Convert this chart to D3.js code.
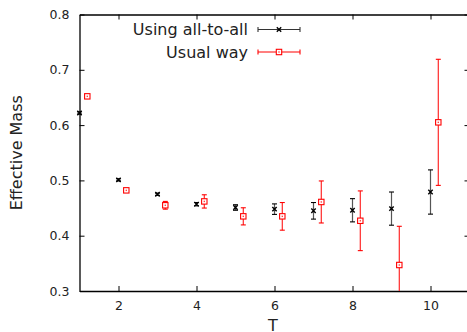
<!DOCTYPE html>
<html>
<head>
<meta charset="utf-8">
<script src="https://cdn.jsdelivr.net/npm/d3@7"></script>
<style>
  body { margin: 0; background: #fff; }
  text { font-family: "DejaVu Sans", sans-serif; fill: #222; }
</style>
</head>
<body>
<svg width="467" height="332"></svg>
<script>
// effective mass vs T, two methods
var allT = [1, 2, 3, 4, 5, 6, 7, 8, 9, 10];
var allMass = [0.622, 0.501, 0.475, 0.457, 0.451, 0.448, 0.445, 0.446, 0.449, 0.479];
var allErr = [0.002, 0.002, 0.002, 0.003, 0.005, 0.0095, 0.015, 0.021, 0.030, 0.040];

var usualT = [1.2, 2.2, 3.2, 4.2, 5.2, 6.2, 7.2, 8.2, 9.2, 10.2];
var usualMass = [0.652, 0.482, 0.455, 0.462, 0.435, 0.435, 0.461, 0.427, 0.347, 0.605];
var usualErr = [0.002, 0.003, 0.007, 0.012, 0.0155, 0.025, 0.038, 0.054, 0.070, 0.114];

var xTicks = [2, 4, 6, 8, 10];
var yTicks = [0.3, 0.4, 0.5, 0.6, 0.7, 0.8];
var seriesNames = ["Using all-to-all", "Usual way"];

var svg = d3.select("svg"),
    plotLeft = 79.5, plotRight = 469.5, plotTop = 14.5, plotBottom = 291;

var x = d3.scaleLinear().domain([1, 11]).range([plotLeft, plotRight]);
var y = d3.scaleLinear().domain([0.3, 0.8]).range([plotBottom, plotTop]);

// axes (ticks point inward, gnuplot style)
svg.append("g")
    .attr("transform", "translate(0," + plotBottom + ")")
    .call(d3.axisBottom(x).tickValues(xTicks).tickSizeInner(-5).tickSizeOuter(0).tickPadding(10).tickFormat(d3.format("d")));
svg.append("g")
    .attr("transform", "translate(0," + plotTop + ")")
    .call(d3.axisTop(x).tickValues(xTicks).tickSizeInner(-5).tickSizeOuter(0).tickFormat(""));
svg.append("g")
    .attr("transform", "translate(" + plotLeft + ",0)")
    .call(d3.axisLeft(y).tickValues(yTicks).tickSizeInner(-5).tickSizeOuter(0).tickPadding(10).tickFormat(d3.format(".1f")));
svg.append("g")
    .attr("transform", "translate(" + plotRight + ",0)")
    .call(d3.axisRight(y).tickValues(yTicks).tickSizeInner(-5).tickSizeOuter(0).tickFormat(""));

svg.selectAll(".domain").attr("stroke", "#000").attr("stroke-width", 1.3);
svg.selectAll(".tick line").attr("stroke", "#000");
svg.selectAll(".tick text").style("font-size", "12.5px").attr("fill", "#222");

// axis titles
svg.append("text")
    .attr("x", 273)
    .attr("y", 331)
    .attr("text-anchor", "middle")
    .style("font-size", "16px")
    .text("T");
svg.append("text")
    .attr("transform", "translate(22," + ((plotTop + plotBottom) / 2) + ") rotate(-90)")
    .attr("text-anchor", "middle")
    .style("font-size", "16px")
    .text("Effective Mass");

function drawMarker(g, cx, cy, kind) {
    if (kind === "x") {
        g.append("path")
            .attr("d", "M" + (cx - 2.2) + "," + (cy - 2.2) + "L" + (cx + 2.2) + "," + (cy + 2.2) +
                "M" + (cx - 2.2) + "," + (cy + 2.2) + "L" + (cx + 2.2) + "," + (cy - 2.2))
            .attr("stroke", "#000").attr("stroke-width", 1.4);
    } else {
        g.append("rect").attr("x", cx - 2.7).attr("y", cy - 2.7).attr("width", 5.4).attr("height", 5.4)
            .attr("fill", "#fff").attr("stroke", "#f00").attr("stroke-width", 1.1);
        g.append("rect").attr("x", cx - 0.7).attr("y", cy - 0.7).attr("width", 1.4).attr("height", 1.4)
            .attr("fill", "#f44");
    }
}

function drawSeries(ts, vals, errs, barColor, capColor, kind) {
    var g = svg.append("g");
    var cap = 2.5;
    ts.forEach(function (t, i) {
        var cx = x(t), cy = y(vals[i]);
        var lo = vals[i] - errs[i], hi = vals[i] + errs[i];
        var y0 = y(Math.max(lo, 0.3)), y1 = y(hi);
        g.append("line").attr("x1", cx).attr("x2", cx).attr("y1", y0).attr("y2", y1)
            .attr("stroke", barColor).attr("stroke-width", 1.2);
        if (lo >= 0.3) {
            g.append("line").attr("x1", cx - cap).attr("x2", cx + cap).attr("y1", y0).attr("y2", y0)
                .attr("stroke", capColor).attr("stroke-width", 1.1);
        }
        g.append("line").attr("x1", cx - cap).attr("x2", cx + cap).attr("y1", y1).attr("y2", y1)
            .attr("stroke", capColor).attr("stroke-width", 1.1);
        drawMarker(g, cx, cy, kind);
    });
}

drawSeries(allT, allMass, allErr, "#555", "#000", "x");
drawSeries(usualT, usualMass, usualErr, "#ff2a2a", "#f00", "sq");

// legend
var legendY = [29.5, 52];
var legendStyle = [["#333", "x"], ["#f00", "sq"]];
seriesNames.forEach(function (name, i) {
    var ly = legendY[i];
    svg.append("text")
        .attr("x", 248)
        .attr("y", ly + 5.5)
        .attr("text-anchor", "end")
        .style("font-size", "16px")
        .text(name);
    var col = legendStyle[i][0];
    svg.append("line").attr("x1", 258).attr("x2", 300).attr("y1", ly).attr("y2", ly)
        .attr("stroke", col).attr("stroke-width", 1.2);
    [258, 300].forEach(function (ex) {
        svg.append("line").attr("x1", ex).attr("x2", ex).attr("y1", ly - 2.5).attr("y2", ly + 2.5)
            .attr("stroke", col).attr("stroke-width", 1.1);
    });
    drawMarker(svg, 279, ly, legendStyle[i][1]);
});
</script>
</body>
</html>
